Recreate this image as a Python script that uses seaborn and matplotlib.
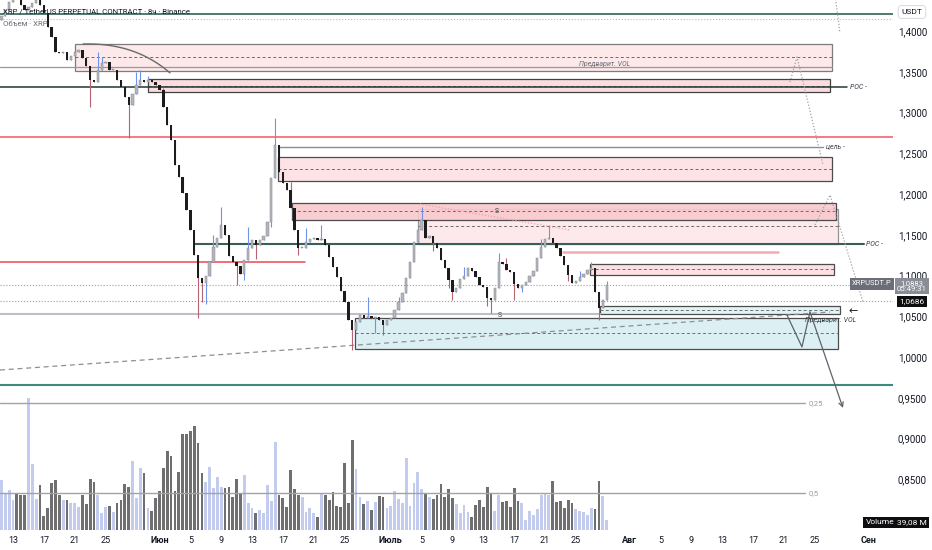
import numpy as np
import pandas as pd
import matplotlib
matplotlib.use("Agg")
import matplotlib.pyplot as plt
import matplotlib.dates as mdates
import seaborn as sns
from matplotlib.patches import Rectangle

sns.set_theme(style="white")
plt.rcParams['font.family'] = ['Roboto', 'DejaVu Sans']

# ---------------- data ----------------
anchor = pd.Timestamp('2021-05-13')
view_days = (-1.69, 114.14)
price_range = (0.7877, 1.4380)
candle_start = pd.Timestamp('2021-05-11 12:00')
candle_step_h = 12
first_open = 1.4130

closes = [
    1.4184, 1.4258, 1.4356, 1.4442, 1.4417, 1.4319, 1.4258, 1.4294, 1.4344, 1.4380,
    1.4319, 1.4221, 1.4049, 1.3926, 1.3742, 1.3730, 1.3742, 1.3644, 1.3693, 1.3742,
    1.3767, 1.3669, 1.3571, 1.3399, 1.3374, 1.3521, 1.3607, 1.3620, 1.3521, 1.3521,
    1.3399, 1.3313, 1.3190, 1.3092, 1.3227, 1.3337, 1.3399, 1.3374, 1.3399, 1.3374,
    1.3337, 1.3276, 1.3067, 1.2847, 1.2663, 1.2356, 1.2209, 1.2012, 1.1804, 1.1558,
    1.1252, 1.0969, 1.0908, 1.0994, 1.1166, 1.1350, 1.1460, 1.1620, 1.1497, 1.1239,
    1.1166, 1.1117, 1.1018, 1.1190, 1.1337, 1.1436, 1.1374, 1.1436, 1.1485, 1.1656,
    1.2196, 1.2601, 1.2270, 1.2135, 1.2049, 1.1828, 1.1558, 1.1337, 1.1337, 1.1411,
    1.1448, 1.1460, 1.1436, 1.1448, 1.1374, 1.1227, 1.1104, 1.0982, 1.0810, 1.0675,
    1.0454, 1.0331, 1.0429, 1.0515, 1.0479, 1.0503, 1.0479, 1.0491, 1.0454, 1.0393,
    1.0454, 1.0479, 1.0577, 1.0675, 1.0785, 1.0969, 1.1166, 1.1411, 1.1558, 1.1681,
    1.1460, 1.1485, 1.1399, 1.1337, 1.1190, 1.1092, 1.0945, 1.0798, 1.0847, 1.0957,
    1.0994, 1.1092, 1.1055, 1.0982, 1.0883, 1.0859, 1.0724, 1.0699, 1.0847, 1.1166,
    1.1141, 1.1067, 1.1043, 1.0896, 1.0847, 1.0883, 1.0920, 1.0994, 1.1055, 1.1215,
    1.1350, 1.1448, 1.1460, 1.1399, 1.1337, 1.1239, 1.1129, 1.1006, 1.0908, 1.0933,
    1.0982, 1.1018, 1.1067, 1.1092, 1.0798, 1.0601, 1.0699, 1.0883,
]
wick_highs = {3: 1.4550, 9: 1.4450, 25: 1.3740, 26: 1.3680, 35: 1.3500, 36: 1.3520,
              38: 1.3450, 42: 1.3300, 55: 1.1500, 57: 1.1840, 64: 1.1600, 71: 1.2933,
              75: 1.2150, 79: 1.1580, 83: 1.1620, 95: 1.0736, 103: 1.0736, 109: 1.1840,
              110: 1.1640, 120: 1.1100, 129: 1.1276, 131: 1.1210, 140: 1.1450,
              142: 1.1620, 150: 1.1060, 153: 1.1166, 157: 1.0935}
wick_lows = {23: 1.3067, 33: 1.2687, 51: 1.0479, 52: 1.0675, 53: 1.0650, 61: 1.0883,
             63: 1.0950, 66: 1.1200, 70: 1.1600, 77: 1.1250, 91: 1.0086, 97: 1.0300,
             99: 1.0270, 112: 1.1300, 116: 1.0850, 117: 1.0700, 126: 1.0620,
             127: 1.0540, 133: 1.0700, 135: 1.0800, 147: 1.0930, 155: 1.0454}
volume_m = [
    195, 144, 156, 117, 144, 137, 137, 515, 257, 121,
    176, 55, 86, 183, 195, 137, 117, 117, 105, 105,
    90, 137, 101, 199, 187, 137, 66, 90, 94, 70,
    105, 117, 179, 168, 269, 125, 242, 222, 86, 74,
    125, 152, 242, 308, 289, 152, 226, 374, 374, 386,
    406, 339, 222, 187, 246, 164, 207, 168, 164, 168,
    129, 199, 144, 215, 105, 86, 66, 78, 66, 176,
    113, 343, 137, 125, 90, 234, 160, 137, 129, 70,
    86, 66, 51, 144, 137, 117, 148, 94, 90, 261,
    105, 351, 238, 129, 101, 113, 78, 109, 133, 129,
    86, 94, 152, 121, 105, 281, 94, 183, 226, 160,
    144, 129, 121, 137, 179, 129, 160, 125, 101, 66,
    98, 70, 51, 98, 117, 90, 168, 144, 74, 137,
    109, 113, 90, 164, 113, 105, 39, 74, 59, 82,
    137, 144, 137, 191, 109, 113, 86, 117, 105, 82,
    74, 70, 59, 86, 82, 191, 133, 39,
]
volume_top_m = 2067

# zones: (day0, day1, low, high, face, edge, mid-dash price)
zones = [
    (8.04, 106.23, 1.3509, 1.3840, '#fde6e8', '#6f6f6f', 1.3681),
    (17.51, 105.97, 1.3252, 1.3411, '#fbdadd', '#2f2f2f', 1.3325),
    (34.37, 106.23, 1.2160, 1.2454, '#fde0e3', '#3a3a3a', 1.2307),
    (52.53, 107.00, 1.1387, 1.1816, '#fde7e9', '#8a8a8a', 1.1607),
    (36.19, 106.74, 1.1681, 1.1890, '#f9c9ce', '#3a3a3a', 1.1791),
    (74.84, 106.49, 1.1006, 1.1141, '#fddde0', '#3a3a3a', 1.1080),
    (44.30, 107.00, 1.0098, 1.0479, '#d9eff3', '#3a3a3a', 1.0294),
    (76.13, 107.26, 1.0528, 1.0626, '#dff2f5', '#3a3a3a', 1.0577),
]
# horizontal levels: (day0, day1, price, color, lw, style)
levels = [
    (-1.69, 114.14, 1.4209, '#3f6f65', 1.3, '-'),
    (-1.69, 114.14, 1.4147, '#f2a3ab', 0.8, ':'),
    (-1.69, 106.23, 1.3558, '#8e9e9b', 0.9, '-'),
    (-1.69, 108.17, 1.3313, '#1f3833', 1.1, '-'),
    (-1.69, 114.14, 1.2699, '#f25664', 1.1, '-'),
    (34.37, 105.06, 1.2577, '#7d938f', 1.0, '-'),
    (23.60, 110.38, 1.1387, '#3c5c56', 1.5, '-'),
    (-1.69, 37.87, 1.1166, '#f04455', 1.1, '-'),
    (71.34, 99.22, 1.1288, '#f7a9b1', 1.8, '-'),
    (-1.69, 109.20, 1.0883, '#9a9da6', 0.8, ':'),
    (-1.69, 114.14, 1.0686, '#9a9da6', 0.8, ':'),
    (-1.69, 76.13, 1.0528, '#bcc0c7', 1.5, '-'),
    (-1.69, 114.14, 0.9656, '#3f8a7b', 1.5, '-'),
    (-1.69, 102.72, 0.9436, '#a3a3a3', 1.0, '-'),
    (-1.69, 102.72, 0.8331, '#a3a3a3', 1.0, '-'),
]
trend_days = [-1.69, 105.97]
trend_prices = [0.9840, 1.0552]
zigzag_days = [100.39, 102.33, 103.37, 107.65]
zigzag_prices = [1.0515, 1.0123, 1.0552, 0.9374]
dotted_paths = [
    ([106.61, 107.26], [1.4450, 1.3975], '#a0a3aa'),
    ([100.78, 101.69, 105.06], [1.3374, 1.3681, 1.2356], '#a0a3aa'),
    ([104.02, 105.97, 110.25], [1.1620, 1.1988, 1.0675], '#a0a3aa'),
    ([52.79, 72.24], [1.1877, 1.1558], '#eda0a8'),
]
arc_days = [9.08, 15.8, 20.36]
arc_prices = [1.3840, 1.3860, 1.3485]

tick_dates = ['2021-05-13', '2021-05-17', '2021-05-21', '2021-05-25', '2021-06-01',
              '2021-06-05', '2021-06-09', '2021-06-13', '2021-06-17', '2021-06-21',
              '2021-06-25', '2021-07-01', '2021-07-05', '2021-07-09', '2021-07-13',
              '2021-07-17', '2021-07-21', '2021-07-25', '2021-08-01', '2021-08-05',
              '2021-08-09', '2021-08-13', '2021-08-17', '2021-08-21', '2021-08-25',
              '2021-09-01']
tick_labels = ['13', '17', '21', '25', 'Июн', '5', '9', '13', '17', '21', '25', 'Июль',
               '5', '9', '13', '17', '21', '25', 'Авг', '5', '9', '13', '17', '21', '25', 'Сен']
month_labels = {'Июн', 'Июль', 'Авг', 'Сен'}
price_ticks = [0.85, 0.90, 0.95, 1.00, 1.05, 1.10, 1.15, 1.20, 1.25, 1.30, 1.35, 1.40]

# ---------------- helpers ----------------
def dn(days):
    return mdates.date2num(anchor + pd.Timedelta(days=float(days)))

W, H = 932, 550
fig = plt.figure(figsize=(W / 100, H / 100), dpi=100)
ax = fig.add_axes([0, 20 / H, 893 / W, 530 / H])
axv = ax.twinx()
ax.set_zorder(axv.get_zorder() + 1)
ax.patch.set_visible(False)

n = len(closes)
dates = candle_start + pd.to_timedelta(np.arange(n) * candle_step_h, unit='h')
xs = mdates.date2num(dates)
opens = np.array([first_open] + closes[:-1])
cl = np.array(closes)
highs = np.maximum(opens, cl)
lows = np.minimum(opens, cl)
for k, v in wick_highs.items():
    highs[k] = max(highs[k], v)
for k, v in wick_lows.items():
    lows[k] = min(lows[k], v)
bull = cl >= opens

# volume
vol = np.array(volume_m[:n], dtype=float)
vcol = np.where(bull[:len(vol)], '#c3cbee', '#6f6f6f')
axv.bar(xs[:len(vol)], vol, width=0.36, color=vcol, linewidth=0)
axv.set_ylim(0, volume_top_m)
axv.set_yticks([])
for s in axv.spines.values():
    s.set_visible(False)

# zones
for d0, d1, lo, hi, fc, ec, mid in zones:
    ax.add_patch(Rectangle((dn(d0), lo), dn(d1) - dn(d0), hi - lo, facecolor=fc,
                           edgecolor=ec, linewidth=0.9, zorder=1, alpha=0.9))
    ax.plot([dn(d0), dn(d1)], [mid, mid], color='#6d6d6d', lw=0.7,
            ls=(0, (3, 2.5)), zorder=1.5)

# levels
for d0, d1, p, c, lw, ls in levels:
    ax.plot([dn(d0), dn(d1)], [p, p], color=c, lw=lw, ls=ls, zorder=2)

# trend dashed line (seaborn)
sns.lineplot(x=[dn(d) for d in trend_days], y=trend_prices, ax=ax, color='#8d8f95',
             lw=0.9, linestyle=(0, (4, 3)), zorder=2)
for dd, pp, c in dotted_paths:
    ax.plot([dn(d) for d in dd], pp, color=c, lw=0.9, ls=(0, (1, 1.5)), zorder=2)

# zigzag projection
zx = [dn(d) for d in zigzag_days]
ax.plot(zx[:-1], zigzag_prices[:-1], color='#5f626b', lw=0.9, zorder=4)
ax.annotate('', xy=(zx[-1], zigzag_prices[-1]), xytext=(zx[-2], zigzag_prices[-2]),
            arrowprops=dict(arrowstyle='->', color='#5f626b', lw=0.9,
                            shrinkA=0, shrinkB=0, mutation_scale=8), zorder=4)

# arc (quadratic bezier)
t = np.linspace(0, 1, 40)
ax_d = [dn(d) for d in arc_days]
bx = (1 - t) ** 2 * ax_d[0] + 2 * (1 - t) * t * ax_d[1] + t ** 2 * ax_d[2]
by = (1 - t) ** 2 * arc_prices[0] + 2 * (1 - t) * t * arc_prices[1] + t ** 2 * arc_prices[2]
ax.plot(bx, by, color='#6a6a6a', lw=1.0, zorder=4)

# candles
wick_col = np.where(bull, '#6f93ea', '#b46473')
ax.vlines(xs, lows, highs, colors=wick_col, lw=0.8, zorder=3)
body_lo = np.minimum(opens, cl)
body_h = np.maximum(np.abs(cl - opens), 0.0012)
ax.bar(xs[bull], body_h[bull], bottom=body_lo[bull], width=0.3, color='#b3b5ba',
       edgecolor='#8a8c92', linewidth=0.35, zorder=3.5)
ax.bar(xs[~bull], body_h[~bull], bottom=body_lo[~bull], width=0.3, color='#1c1c1f',
       linewidth=0, zorder=3.5)

# axes styling
ax.set_xlim(dn(view_days[0]), dn(view_days[1]))
ax.set_ylim(*price_range)
axv.set_xlim(dn(view_days[0]), dn(view_days[1]))
for s in ax.spines.values():
    s.set_visible(False)
ax.yaxis.tick_right()
ax.set_yticks(price_ticks)
ax.set_yticklabels([f"{v:.4f}".replace('.', ',') for v in price_ticks])
ax.tick_params(axis='y', length=0, pad=3.5, labelsize=7, labelcolor='#131722')
ax.set_xticks([mdates.date2num(pd.Timestamp(d)) for d in tick_dates])
ax.set_xticklabels(tick_labels)
ax.tick_params(axis='x', length=0, pad=4, labelsize=6.5, labelcolor='#131722')
for lab in ax.get_xticklabels():
    if lab.get_text() in month_labels:
        lab.set_fontweight('bold')
ax.grid(False)
ax.set_xlabel('')
ax.set_ylabel('')

# annotations on chart
tx = ax.get_yaxis_transform()
def axx(px):
    return px / 893

ax.text(dn(76.8), 1.3555, 'Предварит. VOL', fontsize=5, color='#6a6d76',
        style='italic', ha='center', va='bottom', zorder=5)
ax.text(dn(108.56), 1.3313, 'POC -', fontsize=5, color='#3a3d45', style='italic',
        ha='left', va='center', zorder=5)
ax.text(dn(110.64), 1.1387, 'POC -', fontsize=5, color='#3a3d45', style='italic',
        ha='left', va='center', zorder=5)
ax.text(dn(105.45), 1.2577, 'цель -', fontsize=5, color='#3a3d45', style='italic',
        ha='left', va='center', zorder=5)
ax.text(dn(102.72), 1.0455, 'Предварит. VOL', fontsize=5, color='#3a3d45',
        style='italic', ha='left', va='center', zorder=5)
ax.text(dn(109.0), 1.0560, '←', fontsize=8, color='#202020', ha='center',
        va='center', zorder=5, family=['DejaVu Sans'])
ax.text(dn(62.8), 1.1791, 'S', fontsize=5, color='#444', ha='center', va='center', zorder=5)
ax.text(dn(63.2), 1.0515, 'S', fontsize=5, color='#444', ha='center', va='center', zorder=5)
ax.text(dn(103.2), 0.9436, '0,25', fontsize=5.5, color='#9a9a9a', ha='left', va='center', zorder=5)
ax.text(dn(103.2), 0.8331, '0,5', fontsize=5.5, color='#9a9a9a', ha='left', va='center', zorder=5)

# header texts
fig.text(3 / W, 1 - 11 / H, 'XRP / TetherUS PERPETUAL CONTRACT · 8ч · Binance',
         fontsize=5.6, color='#131722', ha='left', va='center')
fig.text(3 / W, 1 - 24 / H, 'Объем · XRP', fontsize=5.6, color='#6a6d76',
         ha='left', va='center')

# right side boxes
fig.text(912 / W, 1 - 12 / H, 'USDT', fontsize=6, color='#131722', ha='center',
         va='center', bbox=dict(boxstyle='round,pad=0.4', fc='white', ec='#d0d3da', lw=0.6))
ax.text(axx(872), 1.0897, 'XRPUSDT.P', transform=tx, fontsize=5.4, color='white',
        ha='center', va='center', clip_on=False, zorder=6,
        bbox=dict(boxstyle='square,pad=0.3', fc='#6b6e78', ec='none'))
ax.text(axx(912), 1.0868, '1,0883\n05:49:31', transform=tx, fontsize=5.6, color='white',
        ha='center', va='center', clip_on=False, zorder=6, linespacing=1.1,
        bbox=dict(boxstyle='square,pad=0.25', fc='#8a8d96', ec='none'))
ax.text(axx(912), 1.0686, '1,0686', transform=tx, fontsize=6, color='white',
        ha='center', va='center', clip_on=False, zorder=6,
        bbox=dict(boxstyle='square,pad=0.3', fc='#0e0e10', ec='none'))
fig.text(880 / W, 1 - 522 / H, 'Volume', fontsize=6, color='white', ha='center',
         va='center', bbox=dict(boxstyle='square,pad=0.3', fc='#0e0e10', ec='none'))
fig.text(912 / W, 1 - 522 / H, '39,08 M', fontsize=6, color='white', ha='center',
         va='center', bbox=dict(boxstyle='square,pad=0.3', fc='#0e0e10', ec='none'))

fig.savefig('out.png', dpi=100, facecolor='white')
